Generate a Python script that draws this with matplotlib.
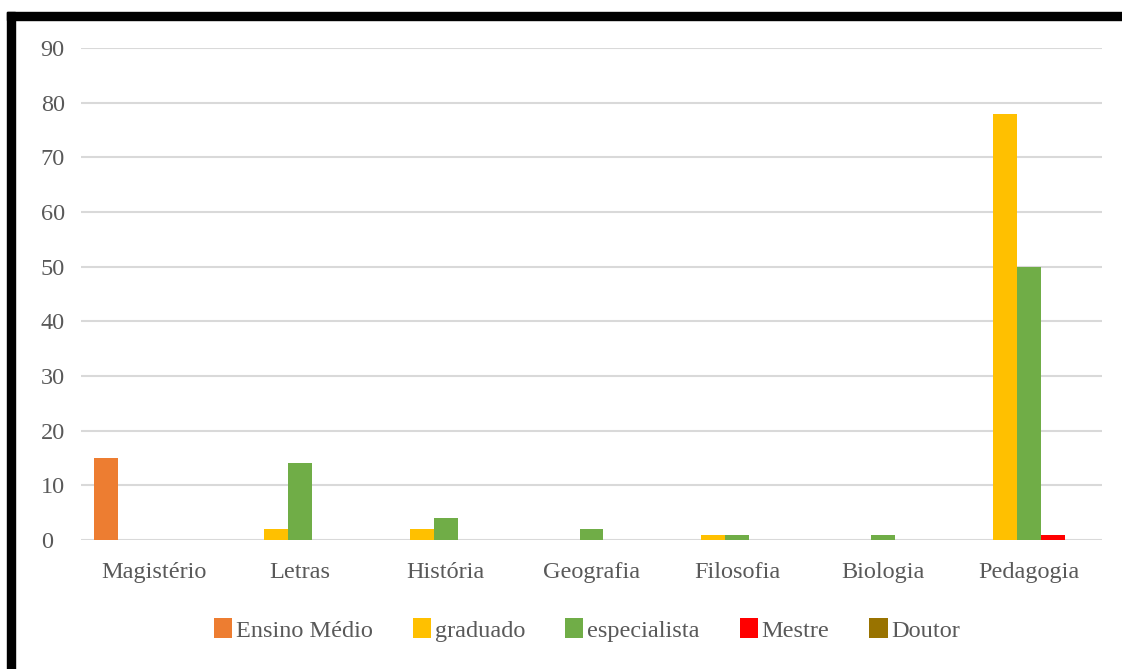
import matplotlib
matplotlib.use("Agg")
import matplotlib.pyplot as plt
from matplotlib.patches import Rectangle
import numpy as np

categories = ["Magistério", "Letras", "História", "Geografia", "Filosofia", "Biologia", "Pedagogia"]
series_names = ["Ensino Médio", "graduado", "especialista", "Mestre", "Doutor"]
ensino_medio = [15, 0, 0, 0, 0, 0, 0]
graduado = [0, 2, 2, 0, 1, 0, 78]
especialista = [0, 14, 4, 2, 1, 1, 50]
mestre = [0, 0, 0, 0, 0, 0, 1]
doutor = [0, 0, 0, 0, 0, 0, 0]
colors = ["#ED7D31", "#FFC000", "#70AD47", "#FF0000", "#997300"]
yticks = [0, 10, 20, 30, 40, 50, 60, 70, 80, 90]

W, H = 1122, 669
fig = plt.figure(figsize=(W / 100, H / 100), dpi=100)
plt.rcParams['font.family'] = ['Liberation Serif', 'DejaVu Serif']

x0, x1 = 81, 1102
y0, y1 = 540, 48
ax = fig.add_axes([x0 / W, 1 - y0 / H, (x1 - x0) / W, (y0 - y1) / H])

data = [ensino_medio, graduado, especialista, mestre, doutor]
x = np.arange(len(categories))
bw = 0.164
for i, (name, vals, c) in enumerate(zip(series_names, data, colors)):
    ax.bar(x + (i - 2) * bw, vals, width=bw, color=c, label=name, zorder=3)

ax.set_xlim(-0.5, len(categories) - 0.5)
ax.set_ylim(0, 90)
ax.set_yticks(yticks)
ax.set_xticks(x)
ax.set_xticklabels(categories)
ax.grid(axis='y', color='#d9d9d9', linewidth=1.5, zorder=0)
for s in ax.spines.values():
    s.set_visible(False)
ax.tick_params(axis='both', length=0, labelsize=17.5, labelcolor='#595959')
ax.tick_params(axis='y', pad=29)
ax.tick_params(axis='x', pad=16)
for lab in ax.get_yticklabels():
    lab.set_horizontalalignment('left')

leg = fig.legend(loc='center', bbox_to_anchor=(587 / W, 1 - 630 / H), ncol=5, frameon=False,
                 fontsize=17.5, handlelength=0.75, handleheight=0.9, handletextpad=0.15,
                 columnspacing=1.65, labelcolor='#595959')

# black border (top and left)
fig.patches.append(Rectangle((7 / W, 1 - 20 / H), 1 - 7 / W, 8 / H, transform=fig.transFigure,
                             color='black', zorder=10))
fig.patches.append(Rectangle((7 / W, 0), 8 / W, 1 - 12 / H, transform=fig.transFigure,
                             color='black', zorder=10))

fig.savefig("out.png", dpi=100)
